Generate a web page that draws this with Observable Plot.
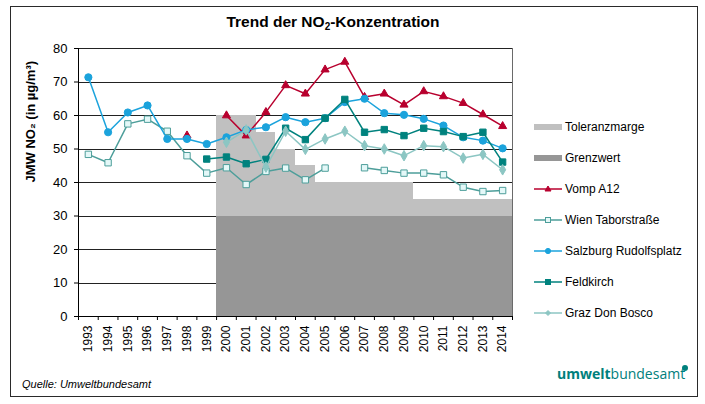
<!DOCTYPE html>
<html><head><meta charset="utf-8">
<script src="https://cdn.jsdelivr.net/npm/d3@7"></script>
<script src="https://cdn.jsdelivr.net/npm/@observablehq/plot@0.6"></script>
<style>
body{margin:0;background:#fff;font-family:"Liberation Sans",Arial,sans-serif;}
#wrap{position:relative;width:705px;height:404px;overflow:hidden;background:#fff;}
#box{position:absolute;left:10px;top:6px;width:688px;height:391px;border:1.5px solid #2a2a2a;box-sizing:border-box;}
#chart{position:absolute;left:0;top:0;}
#title{position:absolute;left:180px;top:13px;width:306px;text-align:center;font-weight:bold;font-size:15.5px;line-height:18px;color:#000;}
#title sub{font-size:10px;vertical-align:-3px;line-height:0;}
#legend{position:absolute;left:534px;top:111px;font-size:12px;color:#000;}
.row{height:31px;display:flex;align-items:center;}
.row svg{margin-right:3px;}
#caption{position:absolute;left:22px;top:378px;font-size:11px;font-style:italic;line-height:13px;color:#000;}
#logo{position:absolute;left:557px;top:366px;font-family:"Open Sans","Noto Sans",sans-serif;font-size:14px;line-height:16px;color:#00807c;}
#logo b{font-weight:700;}
#logo .dot{position:absolute;left:125px;top:-1px;width:6px;height:6px;border-radius:50%;background:#00807c;}
</style>
</head><body>
<div id="wrap">
  <div id="box"></div>
  <div id="chart"></div>
  <div id="title">Trend der NO<sub>2</sub>-Konzentration</div>
  <div id="legend"></div>
  <div id="caption">Quelle: Umweltbundesamt</div>
  <div id="logo"><b>umwelt</b>bundesamt<span class="dot"></span></div>
</div>
<script>
const years = [1993,1994,1995,1996,1997,1998,1999,2000,2001,2002,2003,2004,2005,2006,2007,2008,2009,2010,2011,2012,2013,2014];
const yTicks = [0,10,20,30,40,50,60,70,80];
const toleranzmarge = [null,null,null,null,null,null,null,60,60,55,50,45,40,40,40,40,40,35,35,35,35,35];
const grenzwert = [null,null,null,null,null,null,null,30,30,30,30,30,30,30,30,30,30,30,30,30,30,30];
const vompA12 = [null,null,null,null,null,54,null,60,54,61,69,66.5,73.7,76,65.5,66.5,63.2,67.2,65.7,63.7,60.3,56.8];
const wienTaborstrasse = [48.4,45.9,57.5,58.9,55.3,48,42.8,44.4,39.4,43.3,44.3,40.8,44.3,null,44.4,43.6,42.8,42.8,42.3,38.6,37.3,37.6];
const salzburgRudolfsplatz = [71.4,55,60.9,63,53,53,51.5,53.5,55.7,56.5,59.5,58,59.2,64,65,60.7,60.2,59,57,53.5,52.5,50.2];
const feldkirch = [null,null,null,null,null,null,47,47.6,45.6,46.9,56.2,52.8,59.2,64.8,55,55.8,54,56.2,55.2,53.7,55,46.1];
const grazDonBosco = [null,null,null,null,null,null,null,52,55.7,44.6,55.3,49.9,53,55.3,51,50,48,51,50.7,47.3,48.4,43.8];

const series = [
  {name:"Vomp A12", values:vompA12, color:"#b8002e", fill:"#b8002e", symbol:"triangle", r:3},
  {name:"Wien Taborstraße", values:wienTaborstrasse, color:"#4d9e9a", fill:"#e4f8f8", symbol:"square", r:3.6},
  {name:"Salzburg Rudolfsplatz", values:salzburgRudolfsplatz, color:"#1ba3dc", fill:"#1ba3dc", symbol:"circle", r:3.6},
  {name:"Feldkirch", values:feldkirch, color:"#00827e", fill:"#00827e", symbol:"square", r:3.6},
  {name:"Graz Don Bosco", values:grazDonBosco, color:"#8cc6c3", fill:"#8cc6c3", symbol:"diamond", r:3.2}
];

const bands = years.map((y,i)=>({year:y, tol:toleranzmarge[i], grenz:grenzwert[i]})).filter(d=>d.tol!=null);
const boundaries = years.map(y=>y-0.5).concat([years[years.length-1]+0.5]);

const marks = [
  Plot.gridY(yTicks, {stroke:"#222", strokeOpacity:1, strokeWidth:1, shapeRendering:"crispEdges"}),
  Plot.rect(bands, {x1:d=>d.year-0.5, x2:d=>d.year+0.5, y1:0, y2:"tol", fill:"#c0c0c0", shapeRendering:"crispEdges"}),
  Plot.rect(bands, {x1:d=>d.year-0.5, x2:d=>d.year+0.5, y1:0, y2:"grenz", fill:"#969696", shapeRendering:"crispEdges"}),
  Plot.frame({stroke:"#6a6a6a"}),
  Plot.ruleY([80], {stroke:"#222"}),
  Plot.ruleY([0], {stroke:"#000"}),
  Plot.ruleX([boundaries[0]], {stroke:"#000"}),
  Plot.axisY(yTicks, {tickSize:4, tickPadding:7, fontSize:13, label:null}),
  Plot.axisX(boundaries, {tickSize:4, tickFormat:()=>"", label:null}),
  Plot.axisX(years, {tickSize:0, tickPadding:9, tickRotate:-90, tickFormat:d=>String(d), fontSize:12, label:null}),
  Plot.text(["JMW NO₂ (in µg/m³)"], {frameAnchor:"left", rotate:-90, dx:-48, fontWeight:"bold", fontSize:13, fill:"#000"})
];
for (const s of series) {
  const data = years.map((y,i)=>({year:y, value:s.values[i]}));
  marks.push(Plot.line(data, {x:"year", y:"value", stroke:s.color, strokeWidth:1.5}));
  marks.push(Plot.dot(data.filter(d=>d.value!=null), {x:"year", y:"value", symbol:s.symbol, r:s.r, fill:s.fill, stroke:s.color, strokeWidth:1}));
}

const chart = Plot.plot({
  width:520, height:370,
  marginLeft:78, marginRight:8, marginTop:48, marginBottom:54,
  x:{type:"linear", domain:[boundaries[0], boundaries[boundaries.length-1]]},
  y:{domain:[0,80]},
  style:{fontFamily:"'Liberation Sans', Arial, sans-serif", fontSize:"13px", color:"#000", background:"transparent"},
  marks
});
document.getElementById("chart").appendChild(chart);

// legend
const legend = document.getElementById("legend");
function sw(html){ return `<svg width="28" height="12" viewBox="0 0 28 12">${html}</svg>`; }
const symbolPaths = {
  triangle: (c,f)=>`<path d="M14,3 L17,8 L11,8 Z" fill="${f}" stroke="${c}" stroke-width="1"/>`,
  square: (c,f)=>`<rect x="11.5" y="3.5" width="5" height="5" fill="${f}" stroke="${c}" stroke-width="1"/>`,
  circle: (c,f)=>`<circle cx="14" cy="6" r="2.6" fill="${f}" stroke="${c}" stroke-width="1"/>`,
  diamond: (c,f)=>`<path d="M14,3.5 L16.5,6 L14,8.5 L11.5,6 Z" fill="${f}" stroke="${c}" stroke-width="1"/>`
};
const items = [
  {name:"Toleranzmarge", html:sw(`<rect x="0" y="3" width="28" height="6" fill="#c0c0c0"/>`)},
  {name:"Grenzwert", html:sw(`<rect x="0" y="3" width="28" height="6" fill="#969696"/>`)}
].concat(series.map(s=>({name:s.name, html:sw(`<line x1="0" y1="6" x2="28" y2="6" stroke="${s.color}" stroke-width="1.5"/>`+symbolPaths[s.symbol](s.color,s.fill))})));
for (const it of items) {
  const row = document.createElement("div");
  row.className = "row";
  row.innerHTML = it.html + `<span>${it.name}</span>`;
  legend.appendChild(row);
}
</script>
</body></html>
